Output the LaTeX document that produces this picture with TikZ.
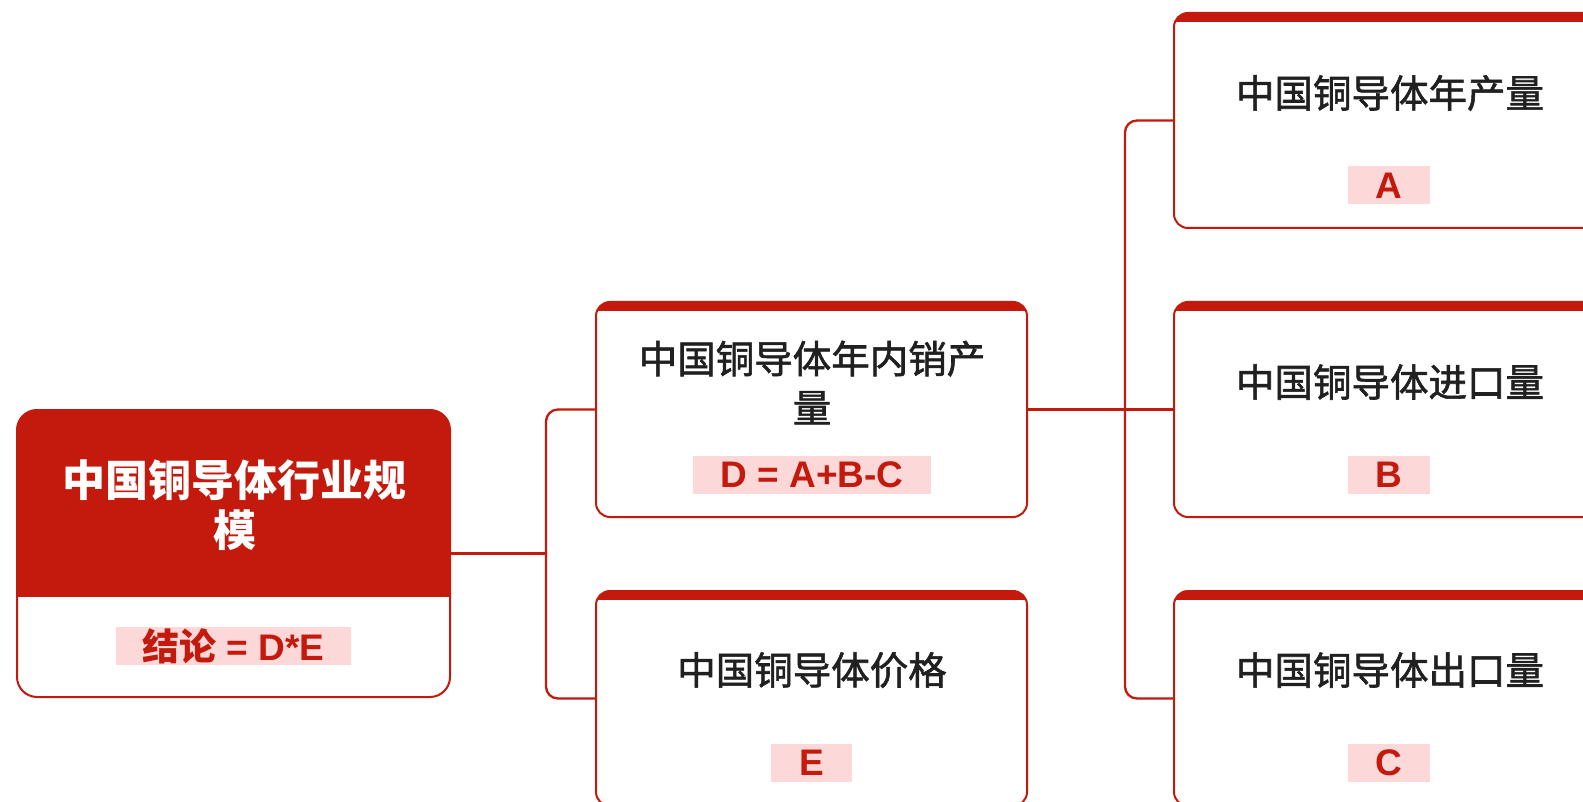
\documentclass[tikz,border=0pt]{standalone}
\usepackage{fontspec}
\setmainfont{Liberation Sans}
\newfontfamily\cjk{Noto Sans CJK SC}
\newfontfamily\cjkm{Noto Sans CJK SC}[FakeBold=1.5]
\definecolor{cred}{HTML}{C4190D}
\definecolor{cpink}{HTML}{FDD8D8}
\definecolor{cdark}{HTML}{202020}
\begin{document}
\begin{tikzpicture}[x=1pt,y=-1pt,
  box/.style={draw=cred, line width=2pt, fill=white, rounded corners=14pt,
    minimum width=431pt, minimum height=215pt, inner sep=0pt,
    path picture={\fill[cred, sharp corners] ([yshift=2pt]path picture bounding box.north west) rectangle ([yshift=-9pt]path picture bounding box.north east);}},
  rootbox/.style={draw=cred, line width=2pt, fill=white, rounded corners=20pt,
    minimum width=433pt, minimum height=287pt, inner sep=0pt,
    path picture={\fill[cred, sharp corners] ([yshift=2pt]path picture bounding box.north west) rectangle ([yshift=-187pt]path picture bounding box.north east);}},
  ttl/.style={text=cdark, font=\cjkm\fontsize{38.5}{49}\selectfont, align=center, inner sep=0pt},
  rttl/.style={text=white, font=\cjk\bfseries\fontsize{43}{50}\selectfont, align=center, inner sep=0pt},
  fml/.style={fill=cpink, text=cred, font=\bfseries\fontsize{37}{37}\selectfont,
    minimum height=38pt, inner xsep=28pt, inner ysep=0pt},
  conn/.style={draw=cred, line width=2.3pt, rounded corners=12pt}
]
\useasboundingbox (0,0) rectangle (1583,802);
\clip (0,0) rectangle (1583,802);
\fill[white] (0,0) rectangle (1583,802);

% boxes
\node[rootbox] (root) at (233.5,553.5) {};
\node[box] (m1) at (811.5,409.5) {};
\node[box] (m2) at (811.5,698.5) {};
\node[box] (rA) at (1389.5,120.5) {};
\node[box] (rB) at (1389.5,409.5) {};
\node[box] (rC) at (1389.5,698.5) {};

% connectors
\coordinate (j1) at (546,553.5);
\coordinate (j2) at (1125,409.5);
\draw[conn] (root.east) -- (j1);
\draw[conn] (m1.west) -| (j1) |- (m2.west);
\draw[conn] (m1.east) -- (rB.west);
\draw[conn] (rA.west) -| (j2) |- (rC.west);

% texts
\node[rttl] (rootT) at (234.5,505) {中国铜导体行业规\\模};
\node[fml, inner xsep=27pt] (rootF) at (233.5,646) {{\cjk\bfseries 结论} = D*E};

\node[ttl] (m1T) at (812,382.5) {中国铜导体年内销产\\量};
\node[fml] (m1F) at (812,474.5) {D = A+B-C};
\node[ttl] (m2T) at (812,670) {中国铜导体价格};
\node[fml] (m2F) at (811.5,763) {E};

\node[ttl] (rAT) at (1390,93) {中国铜导体年产量};
\node[fml] (rAF) at (1389,185.5) {A};
\node[ttl] (rBT) at (1390,382) {中国铜导体进口量};
\node[fml] (rBF) at (1389,474.5) {B};
\node[ttl] (rCT) at (1390,670) {中国铜导体出口量};
\node[fml] (rCF) at (1389,763) {C};
\end{tikzpicture}
\end{document}
